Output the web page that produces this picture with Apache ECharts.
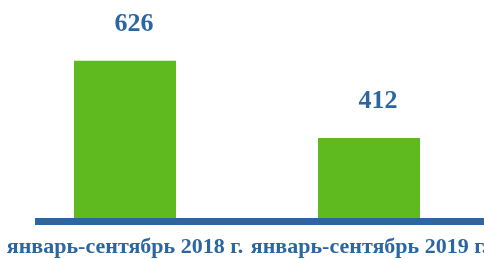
<!DOCTYPE html>
<html>
<head>
<meta charset="utf-8">
<script src="https://cdn.jsdelivr.net/npm/echarts@6/dist/echarts.min.js"></script>
<style>
  html, body { margin: 0; padding: 0; background: #fff; }
  #chart { width: 484px; height: 259px; }
</style>
</head>
<body>
<div id="chart"></div>
<script>
const categories = ['январь-сентябрь 2018 г.', 'январь-сентябрь 2019 г.']
const values = [626, 412]

const blue = '#2b66a1'
const green = '#5fba1f'

const chart = echarts.init(document.getElementById('chart'))

chart.setOption({
  backgroundColor: '#ffffff',
  animation: false,
  grid: [
    // bars
    { left: 3, width: 488, top: 0, bottom: 37.5, outerBoundsMode: 'none' },
    // baseline only
    { left: 35, width: 460, top: 0, bottom: 37.5, outerBoundsMode: 'none' },
  ],
  xAxis: [
    {
      type: 'category',
      gridIndex: 0,
      data: categories,
      axisLine: { show: false },
      axisTick: { show: false },
      axisLabel: {
        color: blue,
        fontFamily: 'Liberation Serif',
        fontWeight: 'bold',
        fontSize: 22,
        margin: 15,
        interval: 0,
      },
    },
    {
      type: 'category',
      gridIndex: 1,
      data: [],
      z: 5,
      axisLine: { show: true, lineStyle: { color: blue, width: 7, cap: 'butt' } },
      axisTick: { show: false },
      axisLabel: { show: false },
    },
  ],
  yAxis: [
    { type: 'value', gridIndex: 0, min: 180, max: 795, show: false },
    { type: 'value', gridIndex: 1, show: false },
  ],
  series: [
    {
      type: 'bar',
      xAxisIndex: 0,
      yAxisIndex: 0,
      data: values,
      barWidth: 102,
      itemStyle: { color: green },
      label: {
        show: true,
        position: 'top',
        distance: 24,
        offset: [9, 0],
        color: blue,
        fontFamily: 'Liberation Serif',
        fontWeight: 'bold',
        fontSize: 26,
      },
    },
  ],
})
</script>
</body>
</html>
